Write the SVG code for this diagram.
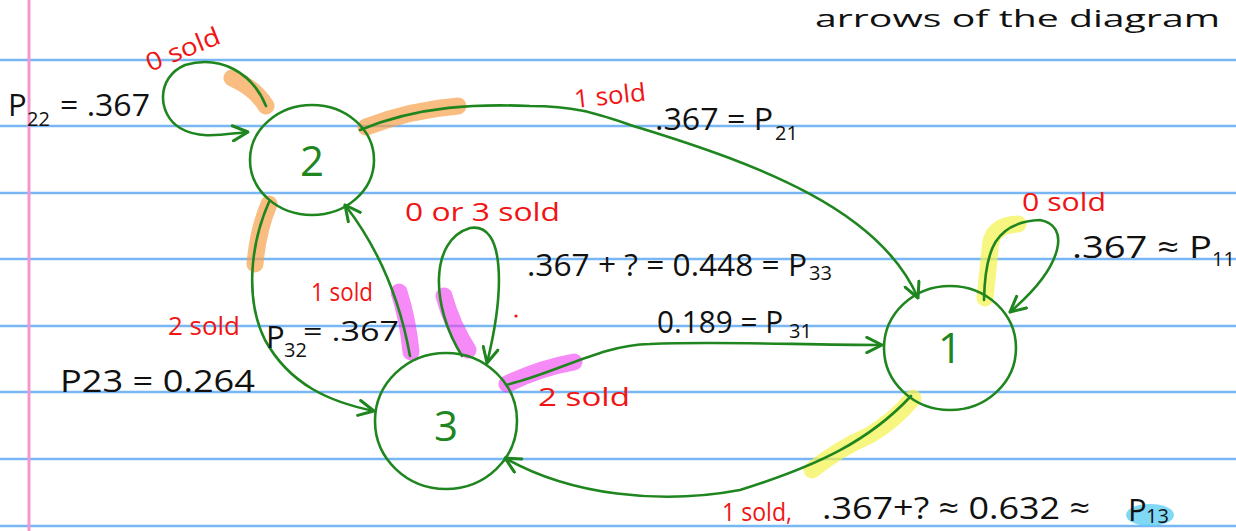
<svg xmlns="http://www.w3.org/2000/svg" width="1236" height="531" viewBox="0 0 1236 531">
<defs>
<style>
.rule{stroke:#78b6f4;stroke-width:2.5}
.margin{stroke:#f497cf;stroke-width:3}
.node{fill:none;stroke:#1f861f;stroke-width:2.6}
.nlabel{fill:#1f861f;font-family:"Open Sans","Liberation Sans",sans-serif;font-size:42px;text-anchor:middle}
.edge{fill:none;stroke:#1f861f;stroke-width:2.6;stroke-linecap:round;marker-end:url(#ah)}
.hl{fill:none;stroke-linecap:round;stroke-linejoin:round;stroke-width:17}
.or{stroke:#f6a04c;opacity:.7}
.mg{stroke:#f03cf0;opacity:.6}
.yl{stroke:#f4f24a;opacity:.7}
.red{fill:#f01414;font-family:"Open Sans","Liberation Sans",sans-serif;font-size:25px}
.blk{fill:#111;font-family:"Open Sans","Liberation Sans",sans-serif;font-size:31px}
.sub{fill:#111;font-family:"Open Sans","Liberation Sans",sans-serif;font-size:20px}
</style>
<marker id="ah" viewBox="0 0 12 12" refX="11" refY="6" markerWidth="7" markerHeight="7" markerUnits="strokeWidth" orient="auto">
<path d="M1,1 L11,6 L1,11" fill="none" stroke="#1f861f" stroke-width="2" stroke-linecap="round" stroke-linejoin="round"/>
</marker>
</defs>
<rect width="1236" height="531" fill="#fff"/>
<g id="paper">
<line class="rule" x1="0" y1="60" x2="1236" y2="60"/>
<line class="rule" x1="0" y1="126" x2="1236" y2="126"/>
<line class="rule" x1="0" y1="193" x2="1236" y2="193"/>
<line class="rule" x1="0" y1="259" x2="1236" y2="259"/>
<line class="rule" x1="0" y1="326" x2="1236" y2="326"/>
<line class="rule" x1="0" y1="392" x2="1236" y2="392"/>
<line class="rule" x1="0" y1="459" x2="1236" y2="459"/>
<line class="rule" x1="0" y1="526" x2="1236" y2="526"/>
<line class="margin" x1="29" y1="0" x2="29" y2="531"/>
<text x="815" y="27" style="fill:#111;font-family:'Open Sans','Liberation Sans',sans-serif;font-size:24px" textLength="405" lengthAdjust="spacingAndGlyphs">arrows of the diagram</text>
</g>
<g id="highlights">
<path class="hl or" d="M232,78 Q255,88 266,106"/>
<path class="hl or" d="M366,127 Q410,110 458,106"/>
<path class="hl or" d="M269,204 Q258,230 255,264"/>
<path class="hl mg" d="M399,292 Q408,320 411,352"/>
<path class="hl mg" d="M444,296 Q452,325 468,350"/>
<path class="hl mg" d="M507,384 Q540,368 574,362"/>
<path class="hl yl" d="M1018,224 Q990,225 990,250 L985,298"/>
<path class="hl yl" d="M913,398 Q895,420 870,435 Q840,448 812,470"/>
<ellipse cx="1150" cy="515" rx="24" ry="11" fill="#5fd0f2" opacity=".8"/>
</g>
<g id="connectors">
<path class="edge" d="M266,106 C252,72 220,55 185,65 C155,78 158,115 180,128 C200,140 225,134 248,132"/>
<path class="edge" d="M360,130 C420,105 480,104 530,106 C580,106 600,115 640,128 C760,165 880,210 918,298"/>
<path class="edge" d="M269,202 C250,245 245,300 265,340 C290,385 330,402 374,411"/>
<path class="edge" d="M410,356 C400,300 380,250 345,205"/>
<path class="edge" d="M462,356 C430,305 430,240 470,228 C505,222 505,290 487,363"/>
<path class="edge" d="M506,385 C560,372 600,345 650,344 C720,341 800,345 882,345"/>
<path class="edge" d="M984,300 C985,250 995,222 1040,220 C1070,225 1065,265 1010,312"/>
<path class="edge" d="M911,396 C870,440 820,465 740,490 C660,505 570,495 505,458"/>
</g>
<g id="node2">
<ellipse class="node" cx="312" cy="160" rx="62" ry="55"/>
<text class="nlabel" x="312" y="176">2</text>
</g>
<g id="node3">
<ellipse class="node" cx="446" cy="421" rx="71" ry="68"/>
<text class="nlabel" x="446" y="441">3</text>
</g>
<g id="node1">
<ellipse class="node" cx="950" cy="348" rx="66" ry="62"/>
<text class="nlabel" x="950" y="363">1</text>
</g>
<g id="labels">
<text class="red" transform="translate(150,72) rotate(-22)" textLength="78" lengthAdjust="spacingAndGlyphs">0 sold</text>
<text class="blk" x="8" y="116">P</text><text class="sub" x="27" y="126">22</text><text class="blk" x="60" y="116" textLength="90" lengthAdjust="spacingAndGlyphs">= .367</text>
<text class="red" x="575" y="108" transform="rotate(-6 575 108)" textLength="72" lengthAdjust="spacingAndGlyphs">1 sold</text>
<text class="blk" x="655" y="130" textLength="118" lengthAdjust="spacingAndGlyphs">.367 = P</text><text class="sub" x="775" y="140">21</text>
<text class="red" x="1022" y="211" textLength="84" lengthAdjust="spacingAndGlyphs">0 sold</text>
<text class="blk" x="1072" y="258" textLength="140" lengthAdjust="spacingAndGlyphs">.367 ≈ P</text><text class="sub" x="1212" y="266">11</text>
<text class="red" x="405" y="221" textLength="155" lengthAdjust="spacingAndGlyphs">0 or 3 sold</text>
<text class="blk" x="527" y="276" textLength="280" lengthAdjust="spacingAndGlyphs">.367 + ? = 0.448 = P</text><text class="sub" x="809" y="280">33</text>
<text class="blk" x="657" y="333" textLength="126" lengthAdjust="spacingAndGlyphs">0.189 = P</text><text class="sub" x="789" y="338">31</text>
<text class="red" x="311" y="301" textLength="62" lengthAdjust="spacingAndGlyphs">1 sold</text>
<text class="blk" x="266" y="348">P</text><text class="sub" x="284" y="357">32</text><text class="blk" x="303" y="341" style="font-size:27px" textLength="96" lengthAdjust="spacingAndGlyphs">= .367</text>
<text class="red" x="168" y="335" textLength="72" lengthAdjust="spacingAndGlyphs">2 sold</text>
<text class="blk" x="60" y="392" textLength="195" lengthAdjust="spacingAndGlyphs">P23  =  0.264</text>
<text class="red" x="538" y="406" textLength="92" lengthAdjust="spacingAndGlyphs">2 sold</text>
<text class="red" x="722" y="521" textLength="70" lengthAdjust="spacingAndGlyphs">1 sold,</text>
<text class="blk" x="822" y="519" textLength="268" lengthAdjust="spacingAndGlyphs">.367+? ≈ 0.632 ≈</text>
<text class="blk" x="1128" y="521">P</text><text class="sub" x="1146" y="523">13</text>
<circle cx="516" cy="316" r="1.6" fill="#f01414"/>
</g>
</svg>
